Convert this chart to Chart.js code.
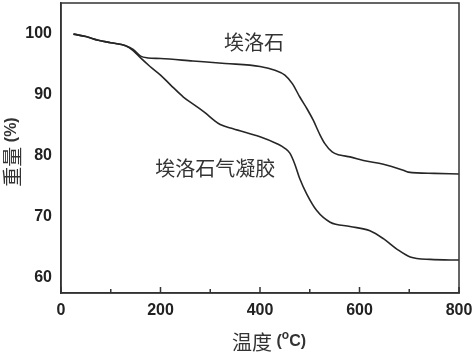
<!DOCTYPE html>
<html>
<head>
<meta charset="utf-8">
<script src="https://cdn.jsdelivr.net/npm/chart.js@4.4.1/dist/chart.umd.min.js"></script>
<style>
  html, body { margin: 0; padding: 0; background: #fff; }
  #wrap { width: 474px; height: 354px; }
</style>
</head>
<body>
<div id="wrap"><canvas id="tga_chart"></canvas></div>
<script>
"use strict"

// TGA curves: temperature (oC) and weight (%)
var halloTemp   = [25, 50, 75, 100, 130, 145, 160, 175, 200, 265, 330, 400, 430, 450, 465, 480, 495, 507, 520, 530, 545, 560, 581, 608, 648, 688, 698, 750, 800];
var halloWeight = [99.9, 99.5, 98.9, 98.5, 98.0, 97.4, 96.3, 96.0, 95.9, 95.5, 95.1, 94.6, 94.0, 93.2, 91.8, 89.6, 87.6, 85.8, 83.5, 82.0, 80.6, 80.1, 79.8, 79.2, 78.6, 77.6, 77.3, 77.1, 77.0];

var aeroTemp   = [25, 50, 75, 100, 130, 145, 160, 179, 200, 220, 246, 270, 290, 306, 320, 346, 400, 433, 450, 460, 470, 480, 494, 514, 541, 581, 621, 648, 675, 702, 742, 800];
var aeroWeight = [99.9, 99.5, 98.9, 98.5, 98.0, 97.2, 96.0, 94.6, 93.2, 91.6, 89.6, 88.2, 87.0, 85.9, 85.1, 84.4, 83.1, 82.0, 81.2, 80.4, 78.6, 76.2, 73.7, 71.0, 69.1, 68.4, 67.7, 66.4, 64.7, 63.4, 63.0, 62.9];

var xMajor = [0, 200, 400, 600, 800];
var xMinor = [100, 300, 500, 700];
var yMajor = [60, 70, 80, 90, 100];

var seriesNames = ["埃洛石", "埃洛石气凝胶"];
// where the curve names sit, in data units (temperature, weight)
var nameSpots = [[388, 98.5], [310, 77.9]];

function toPoints(xs, ys) {
    return xs.map(function(x, i){ return {x: x, y: ys[i]}; });
}

var lineColor = "#262626";
var axisColor = "#333333";
var numFont = "bold 16px 'Liberation Sans', Arial, sans-serif";
var cjkFont = "20px 'Noto Sans CJK SC', sans-serif";

Chart.defaults.font.family = "'Liberation Sans', Arial, sans-serif";

var framePlugin = {
    id: 'frame',
    afterDraw: function(chart) {
        var ctx = chart.ctx;
        var a = chart.chartArea;
        var xs = chart.scales.x;
        var ys = chart.scales.y;
        ctx.save();
        // box round the plot
        ctx.strokeStyle = axisColor;
        ctx.lineWidth = 1.5;
        ctx.strokeRect(a.left, a.top, a.right - a.left, a.bottom - a.top);
        // inward ticks on the bottom axis
        ctx.beginPath();
        xMajor.forEach(function(v){
            var px = xs.getPixelForValue(v);
            ctx.moveTo(px, a.bottom);
            ctx.lineTo(px, a.bottom - 6);
        });
        xMinor.forEach(function(v){
            var px = xs.getPixelForValue(v);
            ctx.moveTo(px, a.bottom);
            ctx.lineTo(px, a.bottom - 4);
        });
        ctx.stroke();

        // curve names
        ctx.fillStyle = "#333";
        ctx.font = cjkFont;
        ctx.textAlign = "center";
        ctx.textBaseline = "middle";
        seriesNames.forEach(function(name, i){
            ctx.fillText(name, xs.getPixelForValue(nameSpots[i][0]), ys.getPixelForValue(nameSpots[i][1]));
        });

        // x axis title: 温度 (oC) with a raised o
        var parts = [
            {t: "温度 ", f: cjkFont, dy: 0},
            {t: "(", f: numFont, dy: 0},
            {t: "o", f: "bold 12px 'Liberation Sans', Arial, sans-serif", dy: -6},
            {t: "C)", f: numFont, dy: 0}
        ];
        var total = 0;
        parts.forEach(function(p){ ctx.font = p.f; p.w = ctx.measureText(p.t).width; total += p.w; });
        var cx = (a.left + a.right) / 2 + 9;
        var px = cx - total / 2;
        var ty = 342;
        ctx.textAlign = "left";
        ctx.textBaseline = "middle";
        parts.forEach(function(p){
            ctx.font = p.f;
            ctx.fillText(p.t, px, ty + p.dy);
            px += p.w;
        });

        // y axis title: 重量 (%) turned on its side
        ctx.translate(12, 152);
        ctx.rotate(-Math.PI / 2);
        var yparts = [
            {t: "重量 ", f: cjkFont},
            {t: "(%)", f: numFont}
        ];
        total = 0;
        yparts.forEach(function(p){ ctx.font = p.f; p.w = ctx.measureText(p.t).width; total += p.w; });
        px = -total / 2;
        yparts.forEach(function(p){
            ctx.font = p.f;
            ctx.fillText(p.t, px, 0);
            px += p.w;
        });
        ctx.restore();
    }
};

var tgaChart = new Chart(document.getElementById("tga_chart"), {
    type: 'line',
    data: {
        datasets: [
            {
                label: seriesNames[0],
                data: toPoints(halloTemp, halloWeight),
                borderColor: lineColor,
                borderWidth: 1.6,
                pointRadius: 0,
                fill: false,
                cubicInterpolationMode: 'monotone'
            },
            {
                label: seriesNames[1],
                data: toPoints(aeroTemp, aeroWeight),
                borderColor: lineColor,
                borderWidth: 1.6,
                pointRadius: 0,
                fill: false,
                cubicInterpolationMode: 'monotone'
            }
        ]
    },
    options: {
        responsive: true,
        maintainAspectRatio: false,
        animation: false,
        layout: { padding: { left: 0, right: 15, top: 3, bottom: 0 } },
        plugins: {
            legend: { display: false },
            tooltip: { enabled: false }
        },
        scales: {
            x: {
                type: 'linear',
                min: 0,
                max: 800,
                grid: { display: false, drawTicks: false },
                border: { display: true, color: axisColor, width: 1.5 },
                afterBuildTicks: function(s){ s.ticks = xMajor.map(function(v){ return {value: v}; }); },
                afterFit: function(s){ s.height = 61; s.paddingLeft = 0; s.paddingRight = 0; },
                ticks: {
                    color: "#222",
                    font: { size: 16, weight: 'bold' },
                    padding: 8,
                    maxRotation: 0
                }
            },
            y: {
                type: 'linear',
                min: 57.5,
                max: 105,
                grid: { display: false, drawTicks: false },
                border: { display: true, color: axisColor, width: 1.5 },
                afterBuildTicks: function(s){ s.ticks = yMajor.map(function(v){ return {value: v}; }); },
                afterFit: function(s){ s.width = 61; s.paddingTop = 0; s.paddingBottom = 0; },
                ticks: {
                    color: "#222",
                    font: { size: 16, weight: 'bold' },
                    padding: 9
                }
            }
        }
    },
    plugins: [framePlugin]
});
</script>
</body>
</html>
